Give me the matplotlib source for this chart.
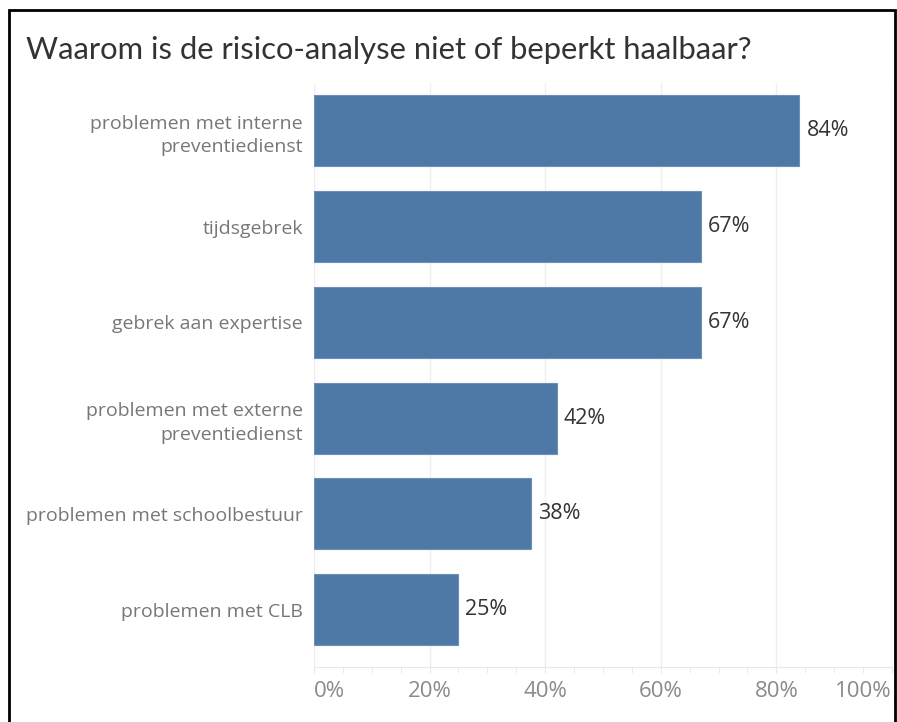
import matplotlib.pyplot as plt
from matplotlib.patches import Rectangle
from matplotlib.ticker import MultipleLocator

# Redenen waarom de risico-analyse niet of beperkt haalbaar is
categories = ['problemen met interne\npreventiedienst', 'tijdsgebrek', 'gebrek aan expertise',
              'problemen met externe\npreventiedienst', 'problemen met schoolbestuur',
              'problemen met CLB']
values = [84, 67, 67, 42, 37.5, 25]
value_labels = ['84%', '67%', '67%', '42%', '38%', '25%']
tick_values = [0, 20, 40, 60, 80, 100]
tick_labels = ['0%', '20%', '40%', '60%', '80%', '100%']

plt.rcParams['font.family'] = ['Open Sans', 'DejaVu Sans']

fig = plt.figure(figsize=(8.97, 7.22), dpi=100)
ax = fig.add_axes([0.350, 0.0762, 0.6444, 0.8088])

y = list(range(len(categories)))
ax.barh(y, values, height=0.74, color='#4e79a7', edgecolor='#6a8fb8', linewidth=0.8, zorder=2)
for yi, v, lab in zip(y, values, value_labels):
    ax.text(v + 1.2, yi, lab, va='center', ha='left', fontsize=15.5, color='#333333')

ax.set_xlim(0, 100)
ax.set_ylim(5.6, -0.5)
ax.set_yticks(y)
ax.set_yticklabels(categories, linespacing=1.4)
ax.set_xticks(tick_values)
ax.set_xticklabels(tick_labels)
ax.xaxis.set_minor_locator(MultipleLocator(5))
ax.tick_params(axis='y', length=0, pad=8, labelsize=14, labelcolor='#777777')
ax.tick_params(axis='x', which='major', length=4, color='#e8e8e8', pad=6,
               labelsize=16, labelcolor='#8a8a8a')
ax.tick_params(axis='x', which='minor', length=4, color='#e8e8e8')
ax.grid(axis='x', color='#efefef', linewidth=1, zorder=0)
for s in ['top', 'right', 'left']:
    ax.spines[s].set_visible(False)
ax.spines['bottom'].set_color('#e8e8e8')

tl = ax.get_xticklabels()
tl[0].set_horizontalalignment('left')
tl[-1].set_horizontalalignment('right')

fig.text(26 / 897, 1 - 50 / 722, 'Waarom is de risico-analyse niet of beperkt haalbaar?',
         fontsize=22.3, color='#333333', va='center', ha='left', family=['Lato', 'DejaVu Sans'])

fig.patches.append(Rectangle((9 / 897, -0.05), 886 / 897, 1.05 - 10 / 722,
                             transform=fig.transFigure, fill=False, edgecolor='black',
                             linewidth=2))

fig.savefig('out.png', dpi=100)
